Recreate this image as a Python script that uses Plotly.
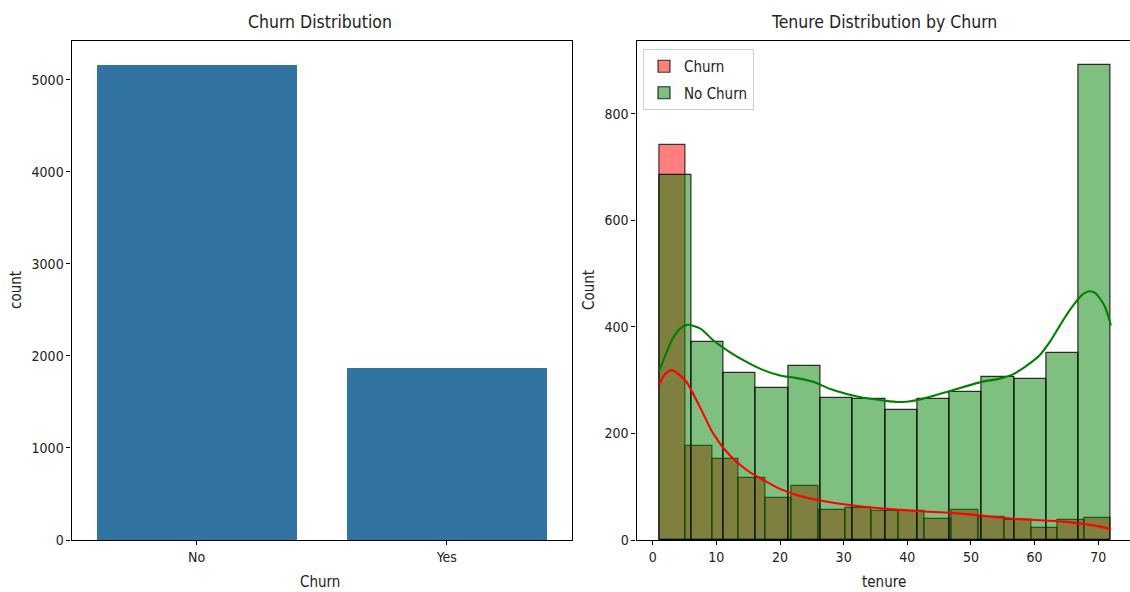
import numpy as np
import plotly.graph_objects as go

# ---------------- data ----------------
churn_categories = ["No", "Yes"]
churn_counts = [5163, 1869]

tenure_min = 1
tenure_max = 72

# Churn = Yes histogram (17 bins)
churn_hist_counts = [742, 177, 152, 116, 78, 102, 56, 61, 55, 55, 39, 56, 44, 37, 23, 37, 41]
# Churn = No histogram (14 bins)
nochurn_hist_counts = [686, 372, 314, 286, 326, 266, 265, 245, 264, 277, 307, 302, 352, 892]

# KDE curves (in count units)
churn_kde_x = [1, 2, 3.0, 4.2, 5.3, 7.4, 9.5, 12.1, 14.8, 17.5, 20, 23, 26.3, 30, 33.1, 40.9, 48.8, 56.6, 64.5, 67.1, 70, 72]
churn_kde_y = [292, 312, 319, 310, 297, 250, 200, 159, 131, 112, 96, 83, 74, 67, 62.5, 55, 49, 40, 34.5, 31, 26, 20]

nochurn_kde_x = [1, 2, 3, 4.2, 5.4, 7.5, 9.5, 12.1, 14.8, 17.4, 20, 22.6, 25.2, 27.8, 30.5, 33.1, 35.7, 38.8, 42, 46.2, 51.4,
                 54.5, 56.6, 58.0, 59.3, 60.8, 62.4, 64.0, 65.5, 67.1, 67.9, 68.7, 69.5, 70.3, 71.1, 72]
nochurn_kde_y = [317, 347, 375, 396, 404, 397, 375, 353, 334, 319, 309, 304, 297, 284, 274, 267, 263, 259, 264, 278, 296,
                 303, 311, 321, 332, 347, 372, 403, 431, 456, 464, 467, 464, 453, 437, 403]

left_yticks = [0, 1000, 2000, 3000, 4000, 5000]
right_yticks = [0, 200, 400, 600, 800]
right_xticks = [0, 10, 20, 30, 40, 50, 60, 70]

# ---------------- figure ----------------
W, H = 1130, 592
FONT = "DejaVu Sans Condensed, DejaVu Sans"

def px_x(p):
    return p / W

def px_y(p):
    return 1 - p / H

fig = go.Figure()

# Left: count plot
fig.add_trace(go.Bar(
    x=churn_categories, y=churn_counts, width=0.8,
    marker=dict(color="#3274a1", line=dict(width=0)),
    xaxis="x", yaxis="y", showlegend=False,
))

def edges(nbins):
    return np.linspace(tenure_min, tenure_max, nbins + 1)

e_c = edges(len(churn_hist_counts))
e_n = edges(len(nochurn_hist_counts))

fig.add_trace(go.Bar(
    x=(e_c[:-1] + e_c[1:]) / 2, y=churn_hist_counts, width=np.diff(e_c),
    marker=dict(color="rgba(255,0,0,0.5)", line=dict(color="rgba(0,0,0,0.75)", width=1.2)),
    name="Churn", legendgroup="a", xaxis="x2", yaxis="y2",
))
fig.add_trace(go.Bar(
    x=(e_n[:-1] + e_n[1:]) / 2, y=nochurn_hist_counts, width=np.diff(e_n),
    marker=dict(color="rgba(0,128,0,0.5)", line=dict(color="rgba(0,0,0,0.8)", width=1.2)),
    name="No Churn", legendgroup="b", xaxis="x2", yaxis="y2",
))
fig.add_trace(go.Scatter(
    x=churn_kde_x, y=churn_kde_y, mode="lines", line=dict(color="red", width=2.1, shape="spline", smoothing=0.8),
    xaxis="x2", yaxis="y2", showlegend=False,
))
fig.add_trace(go.Scatter(
    x=nochurn_kde_x, y=nochurn_kde_y, mode="lines", line=dict(color="green", width=2.1, shape="spline", smoothing=0.8),
    xaxis="x2", yaxis="y2", showlegend=False,
))

ydom = [px_y(540), px_y(41)]
axis_common = dict(
    showline=True, linecolor="black", linewidth=1.1, ticks="outside", ticklen=4,
    tickwidth=1.1, tickcolor="black", showgrid=False, zeroline=False, automargin=False,
    tickfont=dict(family=FONT, size=14, color="#222"),
)

fig.update_layout(
    width=W, height=H,
    margin=dict(l=0, r=0, t=0, b=0, autoexpand=False),
    plot_bgcolor="white", paper_bgcolor="white",
    barmode="overlay", bargap=0,
    font=dict(family=FONT, size=14, color="#222"),
    xaxis=dict(domain=[px_x(71.5), px_x(572)], range=[-0.5, 1.5], mirror=True,
               type="category", **axis_common),
    yaxis=dict(domain=ydom, range=[0, 5421], tickvals=left_yticks, mirror=True, **axis_common),
    xaxis2=dict(domain=[px_x(636.5), 1], range=[-2.55, 75.0], tickvals=right_xticks,
                mirror=True, anchor="y2", **axis_common),
    yaxis2=dict(domain=ydom, range=[0, 937], tickvals=right_yticks, anchor="x2", **axis_common),
    legend=dict(
        x=px_x(643), y=px_y(49), xanchor="left", yanchor="top",
        bgcolor="rgba(255,255,255,0.8)", bordercolor="#d0d0d0", borderwidth=1,
        font=dict(family=FONT, size=15, color="#222"), tracegroupgap=4,
    ),
    annotations=[
        dict(text="Churn Distribution", x=px_x(320), y=px_y(22), xref="paper", yref="paper",
             showarrow=False, font=dict(size=17.5), xanchor="center", yanchor="middle"),
        dict(text="Tenure Distribution by Churn", x=px_x(884), y=px_y(22), xref="paper", yref="paper",
             showarrow=False, font=dict(size=17.5), xanchor="center", yanchor="middle"),
        dict(text="Churn", x=px_x(320), y=px_y(582), xref="paper", yref="paper",
             showarrow=False, font=dict(size=15), xanchor="center", yanchor="middle"),
        dict(text="tenure", x=px_x(884), y=px_y(582), xref="paper", yref="paper",
             showarrow=False, font=dict(size=15), xanchor="center", yanchor="middle"),
        dict(text="count", x=px_x(16), y=px_y(290), xref="paper", yref="paper", textangle=-90,
             showarrow=False, font=dict(size=15), xanchor="center", yanchor="middle"),
        dict(text="Count", x=px_x(589), y=px_y(290), xref="paper", yref="paper", textangle=-90,
             showarrow=False, font=dict(size=15), xanchor="center", yanchor="middle"),
    ],
)

fig.write_html("out.html", config={"displayModeBar": False},
               post_script="document.body.style.margin='0';")
